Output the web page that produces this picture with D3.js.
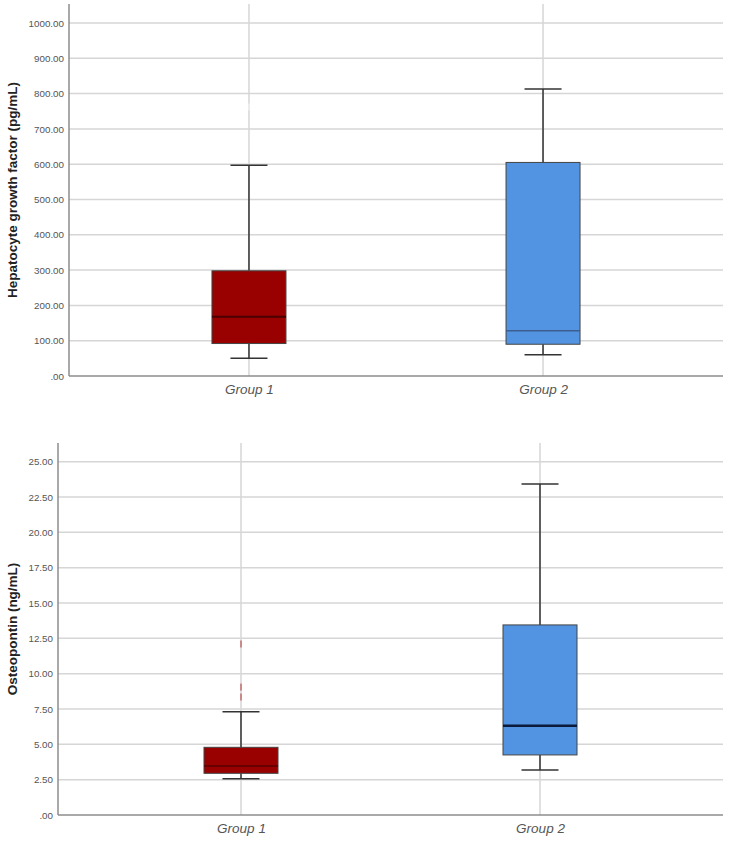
<!DOCTYPE html>
<html>
<head>
<meta charset="utf-8">
<script src="https://d3js.org/d3.v7.min.js"></script>
<style>
  body { margin: 0; background: #fff; }
  svg { display: block; }
  .tick text { font-family: Arial, "Liberation Sans", sans-serif; }
</style>
</head>
<body>
<script>
// groups + box stats
var groups = ["Group 1", "Group 2"];

// Hepatocyte growth factor (pg/mL): [lower whisker, Q1, median, Q3, upper whisker]
var hgfStats = [
  [50, 92, 168, 298, 597],
  [60, 90, 128, 605, 813]
];
var hgfOutliers = [[762], []];
var hgfTicks = [0, 100, 200, 300, 400, 500, 600, 700, 800, 900, 1000];

// Osteopontin (ng/mL)
var opnStats = [
  [2.57, 2.95, 3.47, 4.79, 7.31],
  [3.18, 4.25, 6.32, 13.45, 23.42]
];
var opnOutliers = [[12.1, 9.05, 8.35], []];
var opnTicks = [0, 2.5, 5, 7.5, 10, 12.5, 15, 17.5, 20, 22.5, 25];

var boxFill = ["#990000", "#5294e2"];

var svg = d3.select("body").append("svg")
    .attr("width", 729)
    .attr("height", 845);

function fmt(v) {
  var s = d3.format(".2f")(v);
  return s.replace(/^0\./, ".");
}

function drawPanel(opt) {
  var g = svg.append("g");
  var x = d3.scalePoint().domain(groups).range([opt.left, opt.right]).padding(0.612);
  var y = d3.scaleLinear().domain([0, opt.max]).range([opt.bottom, opt.maxY]);

  // horizontal grid
  g.selectAll(".hgrid").data(opt.ticks.slice(1)).enter().append("line")
      .attr("x1", opt.left).attr("x2", opt.right)
      .attr("y1", d => y(d)).attr("y2", d => y(d))
      .attr("stroke", "#d6d6d6").attr("stroke-width", 1.5);

  // vertical grid at categories
  g.selectAll(".vgrid").data(groups).enter().append("line")
      .attr("x1", d => x(d)).attr("x2", d => x(d))
      .attr("y1", opt.top).attr("y2", opt.bottom)
      .attr("stroke", "#d6d6d6").attr("stroke-width", 1.5);

  // y axis
  var yAxis = d3.axisLeft(y).tickValues(opt.ticks).tickSize(0).tickPadding(5).tickFormat(fmt);
  var ya = g.append("g").attr("transform", "translate(" + opt.left + ",0)").call(yAxis);
  ya.select(".domain").remove();
  ya.selectAll("text").attr("fill", "#555").style("font-size", "9.8px");
  g.append("line").attr("x1", opt.left).attr("x2", opt.left)
      .attr("y1", opt.top).attr("y2", opt.bottom)
      .attr("stroke", "#8c8c8c").attr("stroke-width", 1.5);

  // x axis
  var xAxis = d3.axisBottom(x).tickSize(0).tickPadding(8);
  var xa = g.append("g").attr("transform", "translate(0," + opt.bottom + ")").call(xAxis);
  xa.select(".domain").remove();
  xa.selectAll("text").attr("fill", "#555").style("font-size", "13.5px").style("font-style", "italic");
  g.append("line").attr("x1", opt.left).attr("x2", opt.right)
      .attr("y1", opt.bottom).attr("y2", opt.bottom)
      .attr("stroke", "#8c8c8c").attr("stroke-width", 1.5);

  // y title
  g.append("text")
      .attr("transform", "translate(17," + ((opt.top + opt.bottom) / 2) + ") rotate(-90)")
      .attr("text-anchor", "middle")
      .attr("fill", "#222")
      .style("font-family", "Arial, 'Liberation Sans', sans-serif")
      .style("font-size", "13.5px")
      .style("font-weight", "bold")
      .text(opt.title);

  var bw = 74, cw = 37;
  opt.stats.forEach(function (s, i) {
    var cx = x(groups[i]);
    // whiskers
    g.append("line").attr("x1", cx).attr("x2", cx).attr("y1", y(s[3])).attr("y2", y(s[4]))
        .attr("stroke", "#333").attr("stroke-width", 1.5);
    g.append("line").attr("x1", cx).attr("x2", cx).attr("y1", y(s[0])).attr("y2", y(s[1]))
        .attr("stroke", "#333").attr("stroke-width", 1.5);
    g.append("line").attr("x1", cx - cw / 2).attr("x2", cx + cw / 2).attr("y1", y(s[4])).attr("y2", y(s[4]))
        .attr("stroke", "#333").attr("stroke-width", 1.5);
    g.append("line").attr("x1", cx - cw / 2).attr("x2", cx + cw / 2).attr("y1", y(s[0])).attr("y2", y(s[0]))
        .attr("stroke", "#333").attr("stroke-width", 1.5);
    // box
    g.append("rect").attr("x", cx - bw / 2).attr("width", bw)
        .attr("y", y(s[3])).attr("height", y(s[1]) - y(s[3]))
        .attr("fill", boxFill[i]).attr("stroke", "#444").attr("stroke-width", 1);
    // median
    g.append("line").attr("x1", cx - bw / 2).attr("x2", cx + bw / 2).attr("y1", y(s[2])).attr("y2", y(s[2]))
        .attr("stroke", opt.medianColor[i]).attr("stroke-width", opt.medianWidth[i]);
  });

  // outliers (faint squashed markers)
  opt.outliers.forEach(function (arr, i) {
    var cx = x(groups[i]);
    g.selectAll(null).data(arr).enter().append("line")
        .attr("x1", cx).attr("x2", cx)
        .attr("y1", d => y(d) - 3.5).attr("y2", d => y(d) + 3.5)
        .attr("stroke", opt.outlierColor).attr("stroke-width", 2);
  });
}

drawPanel({
  left: 69, right: 723, top: 4, bottom: 376, maxY: 23, max: 1000,
  ticks: hgfTicks, stats: hgfStats, outliers: hgfOutliers,
  title: "Hepatocyte growth factor (pg/mL)",
  medianColor: ["#4a0000", "#3d5f8f"], medianWidth: [2, 1.5],
  outlierColor: "#ececec"
});

drawPanel({
  left: 58, right: 723, top: 443, bottom: 815, maxY: 461.7, max: 25,
  ticks: opnTicks, stats: opnStats, outliers: opnOutliers,
  title: "Osteopontin (ng/mL)",
  medianColor: ["#5a0000", "#0b1a3d"], medianWidth: [1.5, 2.5],
  outlierColor: "#c98a8a"
});
</script>
</body>
</html>
